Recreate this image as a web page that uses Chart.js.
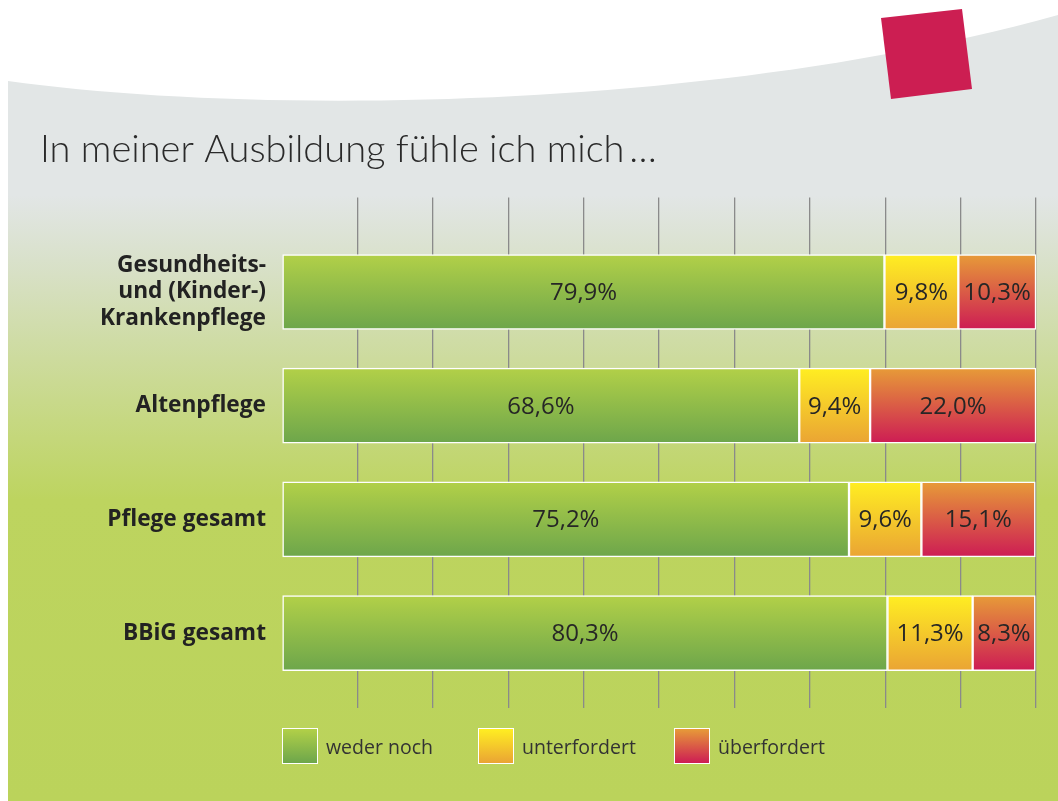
<!DOCTYPE html>
<html lang="de">
<head>
<meta charset="utf-8">
<title>In meiner Ausbildung fühle ich mich …</title>
<script src="https://cdn.jsdelivr.net/npm/chart.js@4.4.1/dist/chart.umd.min.js"></script>
<style>
    html, body { margin: 0; padding: 0; background: #fff; }
    #wrap { position: relative; width: 1058px; height: 801px; overflow: hidden; }
    #legend {
        position: absolute; left: 282px; top: 728px;
        display: flex; font-family: 'Open Sans', sans-serif; font-size: 19.5px; color: #333;
    }
    .legend-item { display: flex; align-items: center; width: 196px; }
    .legend-swatch { width: 34px; height: 34px; border: 1.5px solid #fff; margin-right: 8px; }
</style>
</head>
<body>
<div id="wrap">
    <canvas id="chart" width="1058" height="801"></canvas>
    <div id="legend"></div>
</div>
<script>
// Survey answers per training type, in percent
const categories = [['Gesundheits-', 'und (Kinder-)', 'Krankenpflege'], 'Altenpflege', 'Pflege gesamt', 'BBiG gesamt'];
const seriesNames = ['weder noch', 'unterfordert', 'überfordert'];
const wederNoch = [79.9, 68.6, 75.2, 80.3];
const unterfordert = [9.8, 9.4, 9.6, 11.3];
const ueberfordert = [10.3, 22.0, 15.1, 8.3];
const gridSteps = [0, 10, 20, 30, 40, 50, 60, 70, 80, 90, 100];

// top/bottom colour of each bar gradient
const palette = [
    ['#b2d048', '#6da64b'],
    ['#ffee22', '#eaa434'],
    ['#e79b38', '#cd1c54']
];
const BAR_H = 75;

function barGradient(stops) {
    return (ctx) => {
        const chart = ctx.chart;
        const y = chart.scales.y;
        if (!chart.chartArea || !y || ctx.dataIndex === undefined) return stops[0];
        const yc = y.getPixelForValue(ctx.dataIndex);
        const g = chart.ctx.createLinearGradient(0, yc - BAR_H / 2, 0, yc + BAR_H / 2);
        g.addColorStop(0, stops[0]);
        g.addColorStop(1, stops[1]);
        return g;
    };
}

const fmt = v => v.toFixed(1).replace('.', ',') + '%';

// grey-to-green panel, white swoosh on top and the red square
const backdrop = {
    id: 'backdrop',
    beforeDraw(chart) {
        const { ctx, width, height } = chart;
        ctx.save();
        ctx.fillStyle = '#fff';
        ctx.fillRect(0, 0, width, height);

        const bg = ctx.createLinearGradient(0, 0, 0, height);
        bg.addColorStop(0, '#e2e6e6');
        bg.addColorStop(195 / 801, '#e2e6e6');
        bg.addColorStop(260 / 801, '#d9e1cb');
        bg.addColorStop(340 / 801, '#cfdca6');
        bg.addColorStop(420 / 801, '#c6d882');
        bg.addColorStop(500 / 801, '#bdd45f');
        bg.addColorStop(1, '#bbd35b');
        ctx.fillStyle = bg;
        ctx.fillRect(8, 0, width - 8, height);

        ctx.fillStyle = '#fff';
        ctx.beginPath();
        ctx.moveTo(8, 0);
        ctx.lineTo(8, 81);
        ctx.bezierCurveTo(250, 115, 710, 112, width, 15);
        ctx.lineTo(width, 0);
        ctx.closePath();
        ctx.fill();

        ctx.fillStyle = '#cc1e52';
        ctx.beginPath();
        ctx.moveTo(881, 18);
        ctx.lineTo(962, 9);
        ctx.lineTo(972, 89);
        ctx.lineTo(891, 99);
        ctx.closePath();
        ctx.fill();
        ctx.restore();
    }
};

// percentage text centred in every segment
const valueLabels = {
    id: 'valueLabels',
    afterDatasetsDraw(chart) {
        const ctx = chart.ctx;
        ctx.save();
        ctx.font = '24px "Open Sans"';
        ctx.fillStyle = '#262626';
        ctx.textAlign = 'center';
        ctx.textBaseline = 'middle';
        chart.data.datasets.forEach((ds, i) => {
            chart.getDatasetMeta(i).data.forEach((bar, j) => {
                const { x, y, base } = bar.getProps(['x', 'y', 'base'], true);
                ctx.fillText(fmt(ds.data[j]), (x + base) / 2, y + 1);
            });
        });
        ctx.restore();
    }
};

const gridColor = ctx => (ctx.tick && ctx.tick.value === 0) ? 'rgba(0,0,0,0)' : '#8a8a8a';

const seriesValues = [wederNoch, unterfordert, ueberfordert];
const datasets = seriesValues.map((values, i) => ({
    label: seriesNames[i],
    data: values,
    backgroundColor: barGradient(palette[i]),
    borderColor: '#fff',
    borderWidth: 1.5,
    borderSkipped: false,
    barThickness: BAR_H
}));

const chart = new Chart(document.getElementById('chart'), {
    type: 'bar',
    data: { labels: categories, datasets },
    options: {
        indexAxis: 'y',
        responsive: false,
        animation: false,
        events: [],
        layout: { padding: { left: 40, right: 22, top: 0, bottom: 93 } },
        plugins: {
            legend: { display: false },
            tooltip: { enabled: false },
            title: {
                display: true,
                text: 'In meiner Ausbildung fühle ich mich\u2009…',
                align: 'start',
                color: '#2a2a2a',
                font: { family: 'Lato', size: 38, weight: '300', lineHeight: 1.2 },
                padding: { top: 127, bottom: 25 }
            }
        },
        scales: {
            x: {
                type: 'linear',
                stacked: true,
                position: 'bottom',
                min: gridSteps[0],
                max: gridSteps[gridSteps.length - 1],
                border: { display: false },
                ticks: { display: false, stepSize: gridSteps[1] - gridSteps[0] },
                grid: { color: gridColor, lineWidth: 1.3, drawTicks: true, tickLength: 18 }
            },
            x2: {
                type: 'linear',
                position: 'top',
                min: gridSteps[0],
                max: gridSteps[gridSteps.length - 1],
                border: { display: false },
                ticks: { display: false, stepSize: gridSteps[1] - gridSteps[0] },
                grid: { color: gridColor, lineWidth: 1.3, drawOnChartArea: false, drawTicks: true, tickLength: 37.5 }
            },
            y: {
                stacked: true,
                border: { display: false },
                grid: { display: false, drawTicks: false },
                ticks: {
                    padding: 16,
                    color: '#222',
                    font: { family: 'Open Sans', size: 22.7, weight: 'bold', lineHeight: 1.16 }
                },
                afterFit(scale) { scale.width = 242; }
            }
        }
    },
    plugins: [backdrop, valueLabels]
});

// legend below the plot, built from the datasets
const legend = document.getElementById('legend');
chart.data.datasets.forEach((ds, i) => {
    const item = document.createElement('div');
    item.className = 'legend-item';
    const sw = document.createElement('span');
    sw.className = 'legend-swatch';
    sw.style.background = `linear-gradient(${palette[i][0]}, ${palette[i][1]})`;
    const txt = document.createElement('span');
    txt.textContent = ds.label;
    item.appendChild(sw);
    item.appendChild(txt);
    legend.appendChild(item);
});
</script>
</body>
</html>
